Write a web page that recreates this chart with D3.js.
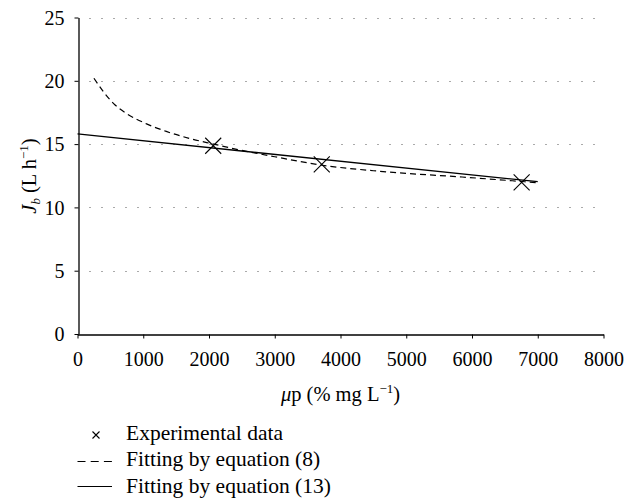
<!DOCTYPE html>
<html><head><meta charset="utf-8">
<script src="https://cdn.jsdelivr.net/npm/d3@7"></script>
<style>body{margin:0;background:#fff}svg{display:block}</style>
</head><body><svg id="c" width="624" height="499"></svg>
<script>
const xTicks = [0,1000,2000,3000,4000,5000,6000,7000,8000];
const yTicks = [0,5,10,15,20,25];
const expX = [2064, 3715, 6755];
const expY = [14.87, 13.4, 11.98];
const fit8X = [250,400,550,750,1050,1350,1700,2070,2500,3000,3700,4600,5850,7000];
const fit8Y = [20.2,19.1,18.2,17.4,16.6,16.0,15.45,15.0,14.5,14.0,13.35,12.85,12.4,11.95];
const fit13X = [0, 7000];
const fit13Y = [15.8, 12.03];
const legendLabels = ["Experimental data","Fitting by equation (8)","Fitting by equation (13)"];

const FF = '"Liberation Serif", "Times New Roman", Times, serif';
const FS = "20px";
const svg = d3.select("#c");
const x = d3.scaleLinear().domain([0,8000]).range([77.5,603.5]);
const y = d3.scaleLinear().domain([0,25]).range([334,17.5]);

// grid
svg.append("g").selectAll("line").data(yTicks.filter(d=>d>0)).join("line")
  .attr("x1",x(0)+12).attr("x2",x(8000)).attr("y1",d=>Math.round(y(d))+0.5).attr("y2",d=>Math.round(y(d))+0.5)
  .attr("stroke","#555").attr("stroke-width",1).attr("stroke-dasharray","1,11");

const xa = svg.append("g").attr("transform",`translate(0,${Math.round(y(0))+0.5})`)
  .call(d3.axisBottom(x).tickValues(xTicks).tickSize(4).tickSizeOuter(0).tickFormat(d3.format("d")));
const ya = svg.append("g").attr("transform",`translate(${Math.round(x(0))+0.5},0)`)
  .call(d3.axisLeft(y).tickValues(yTicks).tickSize(4).tickSizeOuter(0));
[xa,ya].forEach(a=>{a.attr("font-family",null).attr("font-size",null);
  a.select(".domain").attr("stroke","#000").attr("stroke-width",1.3);
  a.selectAll(".tick line").attr("stroke","#000");
  a.selectAll("text").style("font-family",FF).style("font-size",FS).attr("fill","#000");});
xa.selectAll("text").attr("dy",null).attr("y",31.5);
ya.selectAll("text").attr("x",-14).attr("dy","0.34em");

const line = d3.line().x(d=>x(d[0])).y(d=>y(d[1])).curve(d3.curveMonotoneX);
svg.append("path").datum(fit8X.map((v,i)=>[v,fit8Y[i]])).attr("d",line)
  .attr("fill","none").attr("stroke","#000").attr("stroke-width",1.2).attr("stroke-dasharray","6,4");
svg.append("path").datum(fit13X.map((v,i)=>[v,fit13Y[i]])).attr("d",d3.line().x(d=>x(d[0])).y(d=>y(d[1])))
  .attr("fill","none").attr("stroke","#000").attr("stroke-width",1.3);

const cg = svg.append("g");
expX.forEach((v,i)=>{const cx=x(v), cy=y(expY[i]), r=8;
  cg.append("path").attr("d",`M${cx-r},${cy-r}L${cx+r},${cy+r}M${cx-r},${cy+r}L${cx+r},${cy-r}`)
    .attr("stroke","#000").attr("stroke-width",1.1).attr("fill","none");});

// axis titles
const xt = svg.append("text").attr("x",340.5).attr("y",401).attr("text-anchor","middle")
  .style("font-family",FF).style("font-size","20.5px");
xt.append("tspan").style("font-style","italic").text("μ");
xt.append("tspan").text("p (% mg L");
xt.append("tspan").attr("dy",-8).style("font-size","13px").text("−1");
xt.append("tspan").attr("dy",8).text(")");

const yt = svg.append("text").attr("transform","translate(36,176) rotate(-90)").attr("text-anchor","middle")
  .style("font-family",FF).style("font-size","20.5px");
yt.append("tspan").style("font-style","italic").text("J");
yt.append("tspan").attr("dy",4).style("font-style","italic").style("font-size","13px").text("b");
yt.append("tspan").attr("dy",-4).text(" (L h");
yt.append("tspan").attr("dy",-8).style("font-size","13px").text("−1");
yt.append("tspan").attr("dy",8).text(")");

// legend
const lg = svg.append("g");
const lb = [439.5,466,492.5];
lg.selectAll("text").data(legendLabels).join("text").attr("x",126).attr("y",(d,i)=>lb[i])
  .style("font-family",FF).style("font-size","21.5px").text(d=>d);
lg.append("path").attr("d",`M${96-3.5},${435-3.5}L${96+3.5},${435+3.5}M${96-3.5},${435+3.5}L${96+3.5},${435-3.5}`).attr("stroke","#000").attr("stroke-width",1.1);
lg.append("line").attr("x1",77.5).attr("x2",112).attr("y1",461.5).attr("y2",461.5).attr("stroke","#000").attr("stroke-width",1.1).attr("stroke-dasharray","8,5.2");
lg.append("line").attr("x1",77.5).attr("x2",112).attr("y1",486.5).attr("y2",486.5).attr("stroke","#000").attr("stroke-width",1.2);
</script></body></html>
